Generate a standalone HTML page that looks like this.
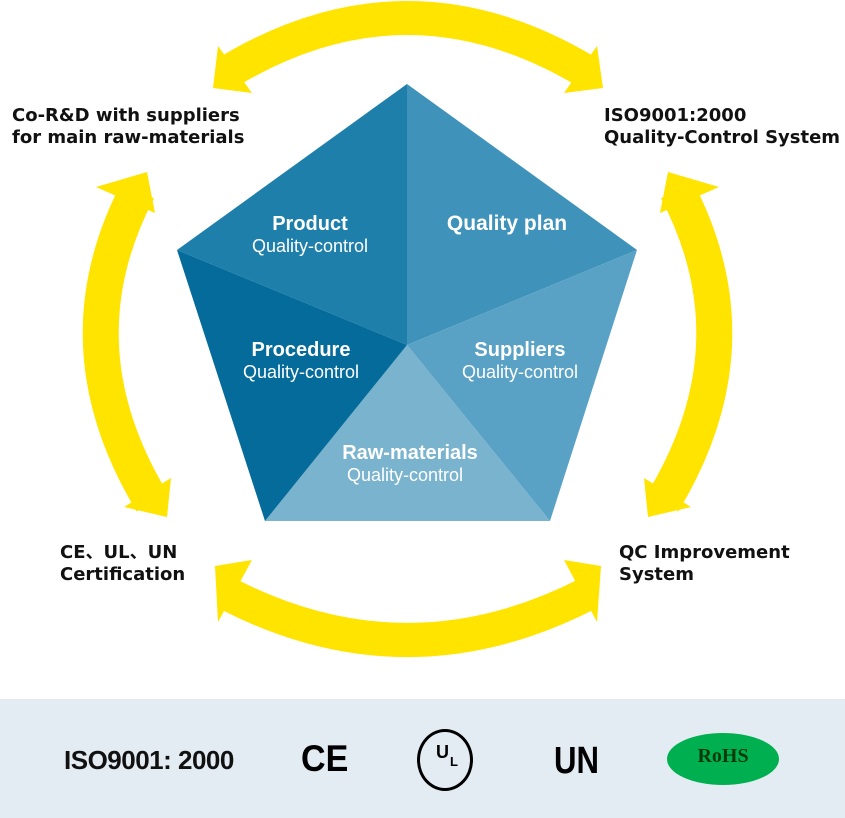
<!DOCTYPE html>
<html><head><meta charset="utf-8"><style>
body{margin:0;width:845px;height:818px;background:#fff;overflow:hidden;position:relative;font-family:"Liberation Sans","Noto Sans CJK SC",sans-serif}
.t{position:absolute;font-weight:bold;font-size:18px;line-height:22px;color:#111;font-family:"DejaVu Sans","Noto Sans CJK SC",sans-serif}
.bar{position:absolute;left:0;top:699px;width:845px;height:119px;background:#e3ebf3}
</style></head><body>
<svg width="845" height="818" style="position:absolute;left:0;top:0">
<g fill="#ffe400">
<path d="M228 72 Q407 -36 587 72" stroke="#ffe400" stroke-width="34" fill="none"/>
<polygon points="218,46 213,88 252,93"/>
<polygon points="597,46 603,88 564,93"/>
<path d="M228 594 Q407 686 587 594" stroke="#ffe400" stroke-width="34" fill="none"/>
<polygon points="218,622 215,566 252,560"/>
<polygon points="597,622 601,566 564,560"/>
<path d="M138 190 Q57 345 152 502" stroke="#ffe400" stroke-width="36" fill="none"/>
<polygon points="96,187 147,172 155,213"/>
<polygon points="124,507 167,517 171,478"/>
<path d="M677 190 Q758 345 663 502" stroke="#ffe400" stroke-width="36" fill="none"/>
<polygon points="719,187 668,172 660,213"/>
<polygon points="691,507 648,517 644,478"/>
</g>
<polygon points="407,84 177,250 407,345" fill="#1f7fab"/>
<polygon points="407,84 637,250 407,345" fill="#3f92b9"/>
<polygon points="637,250 550,521 407,345" fill="#5aa2c5"/>
<polygon points="550,521 265,521 407,345" fill="#7ab3ce"/>
<polygon points="265,521 177,250 407,345" fill="#046b9a"/>
<g fill="#fff" text-anchor="middle" font-family="Liberation Sans, sans-serif">
<text x="310" y="230" font-size="20" font-weight="bold">Product</text>
<text x="310" y="252" font-size="18">Quality-control</text>
<text x="507" y="230" font-size="21" font-weight="bold">Quality plan</text>
<text x="301" y="356" font-size="20" font-weight="bold">Procedure</text>
<text x="301" y="378" font-size="18">Quality-control</text>
<text x="520" y="356" font-size="20" font-weight="bold">Suppliers</text>
<text x="520" y="378" font-size="18">Quality-control</text>
<text x="410" y="459" font-size="20" font-weight="bold">Raw-materials</text>
<text x="405" y="481" font-size="18">Quality-control</text>
</g>
</svg>
<div class="t" style="left:12px;top:105px">Co-R&amp;D with suppliers<br>for main raw-materials</div>
<div class="t" style="left:604px;top:105px">ISO9001:2000<br>Quality-Control System</div>
<div class="t" style="left:60px;top:542px">CE、UL、UN<br>Certification</div>
<div class="t" style="left:619px;top:542px">QC Improvement<br>System</div>
<div class="bar"></div>
<div style="position:absolute;left:64px;top:745px;font-weight:bold;font-size:26px;letter-spacing:-0.5px;color:#111">ISO9001: 2000</div>
<div style="position:absolute;left:301px;top:738px;font-weight:bold;font-size:37px;color:#000;transform:scaleX(0.92);transform-origin:left">CE</div>
<div style="position:absolute;left:417px;top:729px;width:56px;height:62px;border:3px solid #000;border-radius:50%;box-sizing:border-box"></div>
<div style="position:absolute;left:436px;top:742px;font-size:18px;font-weight:bold">U</div>
<div style="position:absolute;left:450px;top:754px;font-size:13px;font-weight:bold">L</div>
<div style="position:absolute;left:554px;top:740px;font-weight:bold;font-size:38px;transform:scaleX(0.82);transform-origin:left;color:#000">UN</div>
<div style="position:absolute;left:667px;top:733px;width:112px;height:52px;border-radius:50%;background:#00b050"></div>
<div style="position:absolute;left:667px;top:745px;width:112px;text-align:center;font-family:'Liberation Serif',serif;font-weight:bold;font-size:20px;color:#0a3a0a">RoHS</div>
</body></html>
